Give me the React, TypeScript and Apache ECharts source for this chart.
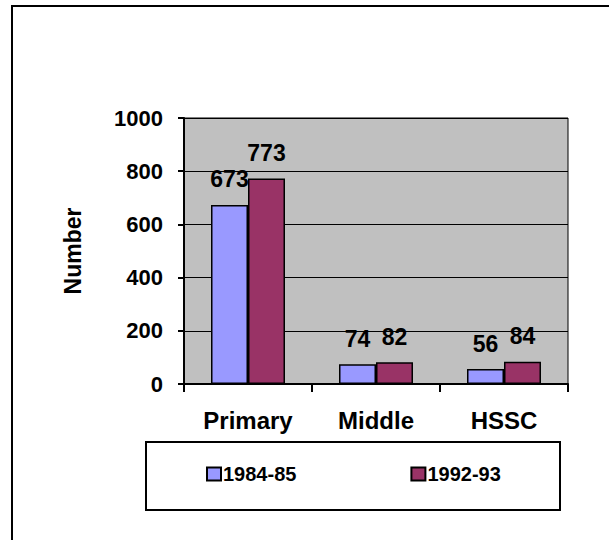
import React, { useEffect, useRef } from "react";
import * as echarts from "echarts";

const categories = ["Primary", "Middle", "HSSC"];
const seriesNames = ["1984-85", "1992-93"];
const values1984 = [673, 74, 56];
const values1992 = [773, 82, 84];
const yTicks = { min: 0, max: 1000, interval: 200 };

const FONT = "'Liberation Sans', Arial, Helvetica, sans-serif";

export default function App() {
  const ref = useRef<HTMLDivElement>(null);
  useEffect(() => {
    document.body.style.margin = "0";
    const chart = echarts.init(ref.current!, undefined, { renderer: "svg" });
    const labelStyle = {
      show: true,
      position: "top" as const,
      distance: 14,
      color: "#000",
      fontFamily: FONT,
      fontWeight: "bold" as const,
      fontSize: 23,
    };
    chart.setOption({
      animation: false,
      backgroundColor: "#fff",
      textStyle: { fontFamily: FONT },
      graphic: [
        {
          type: "rect",
          shape: { x: 12, y: 6, width: 700, height: 700 },
          style: { fill: "none", stroke: "#000", lineWidth: 2 },
          silent: true,
        },
        {
          type: "rect",
          shape: { x: 146, y: 442, width: 414, height: 68 },
          style: { fill: "none", stroke: "#000", lineWidth: 2 },
          silent: true,
        },
      ],
      grid: {
        left: 184,
        top: 118,
        width: 384,
        height: 266,
        show: true,
        backgroundColor: "#C0C0C0",
        borderColor: "#000",
        borderWidth: 1,
      },
      legend: {
        data: seriesNames,
        left: 206,
        top: 463,
        padding: 0,
        itemGap: 114,
        itemWidth: 14,
        itemHeight: 13,
        icon: "rect",
        textStyle: {
          fontFamily: FONT,
          fontWeight: "bold",
          fontSize: 20,
          color: "#000",
          lineHeight: 22,
          padding: [0, 0, 0, -3],
        },
      },
      xAxis: {
        type: "category",
        data: categories,
        axisLine: { lineStyle: { color: "#000", width: 2 } },
        axisTick: { show: true, length: 8, lineStyle: { color: "#000", width: 2 } },
        axisLabel: {
          margin: 24,
          color: "#000",
          fontFamily: FONT,
          fontWeight: "bold",
          fontSize: 24,
        },
      },
      yAxis: {
        type: "value",
        min: yTicks.min,
        max: yTicks.max,
        interval: yTicks.interval,
        name: "Number",
        nameLocation: "middle",
        nameGap: 100,
        nameRotate: 90,
        nameTextStyle: {
          fontFamily: FONT,
          fontWeight: "bold",
          fontSize: 23,
          color: "#000",
        },
        axisLine: { show: true, lineStyle: { color: "#000", width: 2 } },
        axisTick: { show: true, length: 6, lineStyle: { color: "#000", width: 2 } },
        axisLabel: {
          margin: 21,
          color: "#000",
          fontFamily: FONT,
          fontWeight: "bold",
          fontSize: 22,
          formatter: (v: number) => String(v),
        },
        splitLine: { show: true, lineStyle: { color: "#000", width: 1 } },
      },
      series: [
        {
          name: seriesNames[0],
          type: "bar",
          data: values1984,
          barWidth: 37,
          barGap: "0%",
          itemStyle: { color: "#9999FF", borderColor: "#000", borderWidth: 1.5 },
          label: labelStyle,
        },
        {
          name: seriesNames[1],
          type: "bar",
          data: values1992,
          barWidth: 37,
          barGap: "0%",
          itemStyle: { color: "#993366", borderColor: "#000", borderWidth: 1.5 },
          label: labelStyle,
        },
      ],
    });
    return () => chart.dispose();
  }, []);
  return <div ref={ref} style={{ width: 609, height: 540 }} />;
}
